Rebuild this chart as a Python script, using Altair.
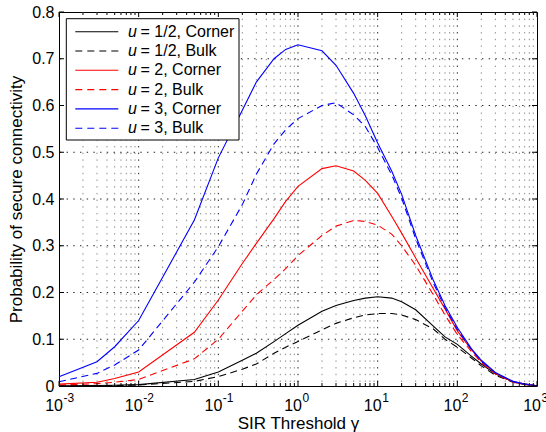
import altair as alt
import pandas as pd

# ---------------- data ----------------
gamma = [0.001, 0.003, 0.005, 0.01, 0.05, 0.1, 0.2, 0.3, 0.5, 0.7, 1, 2, 3, 5, 7,
         10, 15, 20, 30, 50, 70, 100, 150, 200, 300, 500, 700, 1000]

u_half_corner = [0.0005, 0.001, 0.0015, 0.003, 0.014, 0.03, 0.055, 0.07, 0.095, 0.112, 0.13, 0.16, 0.172, 0.183, 0.188,
                 0.191, 0.188, 0.18, 0.163, 0.128, 0.105, 0.089, 0.064, 0.047, 0.026, 0.009, 0.004, 0.0005]
u_half_bulk = [0.0003, 0.0007, 0.001, 0.002, 0.01, 0.02, 0.036, 0.047, 0.07, 0.083, 0.095, 0.12, 0.134, 0.146, 0.152,
               0.155, 0.155, 0.152, 0.142, 0.122, 0.1, 0.083, 0.06, 0.043, 0.023, 0.008, 0.003, 0.0005]
u2_corner = [0.004, 0.008, 0.016, 0.03, 0.115, 0.184, 0.262, 0.305, 0.358, 0.395, 0.427, 0.465, 0.471, 0.46, 0.44,
             0.412, 0.363, 0.327, 0.274, 0.208, 0.165, 0.118, 0.078, 0.053, 0.027, 0.009, 0.004, 0.0005]
u2_bulk = [0.002, 0.005, 0.008, 0.014, 0.058, 0.1, 0.16, 0.195, 0.228, 0.251, 0.279, 0.322, 0.342, 0.354, 0.352,
           0.344, 0.325, 0.3, 0.258, 0.195, 0.152, 0.11, 0.074, 0.05, 0.026, 0.008, 0.003, 0.0005]
u3_corner = [0.02, 0.052, 0.084, 0.14, 0.355, 0.488, 0.59, 0.65, 0.70, 0.72, 0.73, 0.717, 0.686, 0.626, 0.578,
             0.52, 0.46, 0.41, 0.322, 0.226, 0.172, 0.125, 0.08, 0.055, 0.029, 0.01, 0.004, 0.0005]
u3_bulk = [0.009, 0.027, 0.045, 0.077, 0.222, 0.298, 0.388, 0.453, 0.518, 0.548, 0.572, 0.60, 0.606, 0.58, 0.555,
           0.51, 0.452, 0.402, 0.315, 0.22, 0.168, 0.121, 0.078, 0.053, 0.028, 0.009, 0.004, 0.0005]

series_values = [u_half_corner, u_half_bulk, u2_corner, u2_bulk, u3_corner, u3_bulk]
series_u = ["1/2", "1/2", "2", "2", "3", "3"]
series_kind = ["Corner", "Bulk", "Corner", "Bulk", "Corner", "Bulk"]
series_color = ["#000000", "#000000", "#ff0000", "#ff0000", "#0000ff", "#0000ff"]

x_major = [1e-3, 1e-2, 1e-1, 1e0, 1e1, 1e2, 1e3]
x_exponents = ["-3", "-2", "-1", "0", "1", "2", "3"]
x_minor = [m * 10.0 ** k for k in range(-3, 3) for m in range(2, 10)]
y_ticks = [0, 0.1, 0.2, 0.3, 0.4, 0.5, 0.6, 0.7, 0.8]

# ---------------- layout ----------------
W, H = 478, 374
FONT = "Liberation Sans"
DOT = [1.4, 5.3]
DASH = [7, 4.5]

xs = alt.Scale(type="log", domain=[1e-3, 1e3], nice=False)
ys = alt.Scale(domain=[0, 0.8], nice=False, zero=False)

xax = alt.Axis(labels=False, ticks=False, domain=False, grid=False,
               title="SIR Threshold  γ", titleFont=FONT, titleFontSize=17,
               titleFontWeight="normal", titleColor="black", titlePadding=29)
yax = alt.Axis(values=y_ticks, format=".1~f", ticks=False, domain=False, grid=False,
               labelFont=FONT, labelFontSize=16, labelColor="black", labelPadding=5,
               title="Probability of secure connectivity", titleFont=FONT,
               titleFontSize=17, titleFontWeight="normal", titleColor="black",
               titlePadding=6)


def X(f):
    return alt.X(f, scale=xs, axis=xax, title="SIR Threshold  γ")


def Y(f):
    return alt.Y(f, scale=ys, axis=yax, title="Probability of secure connectivity")


layers = []

# grid
layers.append(alt.Chart(pd.DataFrame({"v": x_minor})).mark_rule(
    color="#8a8a8a", strokeWidth=1, strokeDash=DOT).encode(x=X("v:Q")))
layers.append(alt.Chart(pd.DataFrame({"v": x_major[1:-1]})).mark_rule(
    color="#222222", strokeWidth=1, strokeDash=DOT).encode(x=X("v:Q")))
layers.append(alt.Chart(pd.DataFrame({"v": y_ticks[1:-1]})).mark_rule(
    color="#222222", strokeWidth=1, strokeDash=DOT).encode(y=Y("v:Q")))

# curves
for vals, col, kind in zip(series_values, series_color, series_kind):
    df = pd.DataFrame({"gamma": gamma, "p": vals})
    mk = dict(color=col, strokeWidth=1.1)
    if kind == "Bulk":
        mk["strokeDash"] = DASH
    layers.append(alt.Chart(df).mark_line(**mk).encode(x=X("gamma:Q"), y=Y("p:Q")))

# ticks (inward, all four sides)
for vals, ln in ((x_major, 5), (x_minor, 3)):
    d = pd.DataFrame({"v": vals})
    layers.append(alt.Chart(d).mark_rule(color="black", strokeWidth=1).encode(
        x=X("v:Q"), y=alt.value(H), y2=alt.value(H - ln)))
    layers.append(alt.Chart(d).mark_rule(color="black", strokeWidth=1).encode(
        x=X("v:Q"), y=alt.value(0), y2=alt.value(ln)))
dy_t = pd.DataFrame({"v": y_ticks})
layers.append(alt.Chart(dy_t).mark_rule(color="black", strokeWidth=1).encode(
    y=Y("v:Q"), x=alt.value(0), x2=alt.value(5)))
layers.append(alt.Chart(dy_t).mark_rule(color="black", strokeWidth=1).encode(
    y=Y("v:Q"), x=alt.value(W), x2=alt.value(W - 5)))

# x tick labels 10^k
tl = pd.DataFrame({"v": x_major, "base": ["10"] * len(x_major), "e": x_exponents})
layers.append(alt.Chart(tl).mark_text(
    align="right", baseline="alphabetic", dx=4, font=FONT, fontSize=16, color="black").encode(
    x=X("v:Q"), y=alt.value(H + 24.7), text="base:N"))
layers.append(alt.Chart(tl).mark_text(
    align="left", baseline="alphabetic", dx=4.5, font=FONT, fontSize=12, color="black").encode(
    x=X("v:Q"), y=alt.value(H + 16), text="e:N"))

# legend
one = pd.DataFrame({"a": [0]})
layers.append(alt.Chart(one).mark_rect(fill="white", stroke="black", strokeWidth=1).encode(
    x=alt.value(7.3), x2=alt.value(180), y=alt.value(6.7), y2=alt.value(128)))
for i, (u, kind, col) in enumerate(zip(series_u, series_kind, series_color)):
    yy = 19.7 + i * 19.3
    mk = dict(color=col, strokeWidth=1.1)
    if kind == "Bulk":
        mk["strokeDash"] = [7, 5]
    layers.append(alt.Chart(one).mark_rule(**mk).encode(
        x=alt.value(16.3), x2=alt.value(59.3), y=alt.value(yy)))
    layers.append(alt.Chart(one).mark_text(
        align="left", baseline="middle", font=FONT, fontSize=16, fontStyle="italic",
        color="black").encode(x=alt.value(69), y=alt.value(yy), text=alt.value("u")))
    layers.append(alt.Chart(one).mark_text(
        align="left", baseline="middle", font=FONT, fontSize=16, color="black").encode(
        x=alt.value(81.5), y=alt.value(yy), text=alt.value(f"= {u}, {kind}")))

chart = alt.layer(*layers).properties(
    width=W, height=H,
    autosize=alt.AutoSizeParams(type="none"),
    padding={"left": 59, "top": 12, "right": 9, "bottom": 46},
    background="white",
).configure_view(stroke="black", strokeWidth=1)

chart.save("out.html", embed_options={"renderer": "svg", "actions": False})
